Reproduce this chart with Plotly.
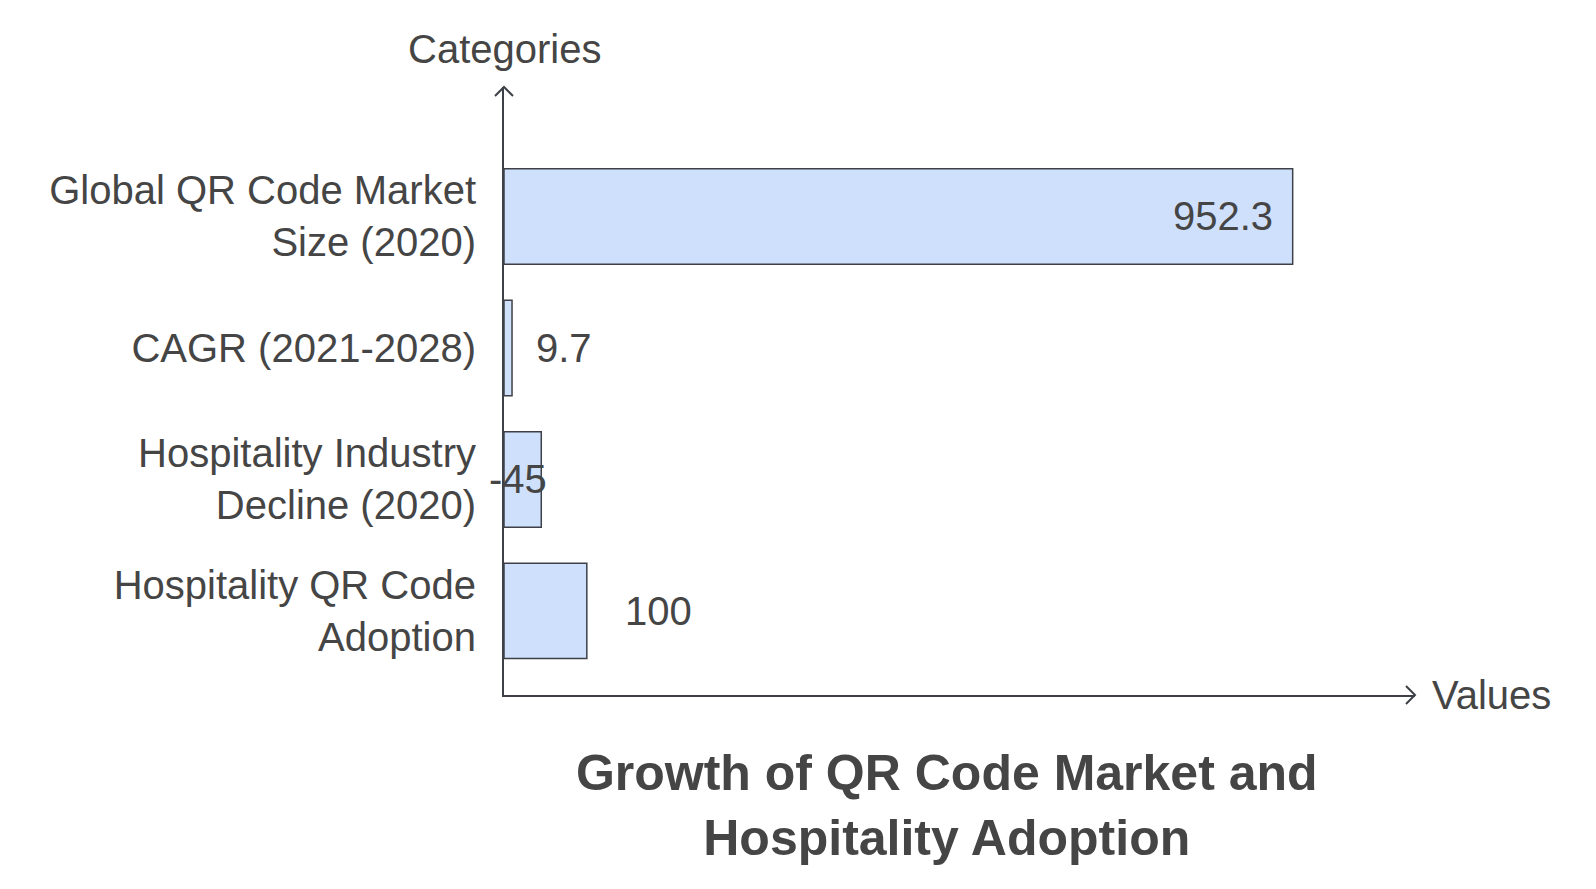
import plotly.graph_objects as go

# ---- data ----
categories = ["Global QR Code Market Size (2020)", "CAGR (2021-2028)",
              "Hospitality Industry Decline (2020)", "Hospitality QR Code Adoption"]
tick_labels = ["Global QR Code Market<br>Size (2020)", "CAGR (2021-2028)",
               "Hospitality Industry<br>Decline (2020)", "Hospitality QR Code<br>Adoption"]
values = [952.3, 9.7, -45, 100]
value_labels = ["952.3", "9.7", "-45", "100"]

# ---- style ----
FONT = "Liberation Sans, Arial, Helvetica, sans-serif"
TEXT = "#454545"
AXIS = "#3d4147"
label_anchor = ["right", "left", "center", "left"]
label_shift = [-18, 22, -23, 36]

bar_len = [abs(v) for v in values]

W, H = 1580, 873

fig = go.Figure()
fig.add_trace(go.Bar(
    x=bar_len, y=categories, orientation="h",
    marker=dict(color="#cfe0fc", line=dict(color=AXIS, width=1.5)),
    hoverinfo="skip", showlegend=False,
))

for c, L, t, a, s in zip(categories, bar_len, value_labels, label_anchor, label_shift):
    fig.add_annotation(x=L, y=c, xref="x", yref="y",
                       text=t, showarrow=False, xanchor=a, yanchor="middle",
                       xshift=s, font=dict(family=FONT, size=40, color=TEXT))

# axis titles
fig.add_annotation(x=0, y=1, xref="x domain", yref="y domain", text="Categories",
                   showarrow=False, xanchor="center", yanchor="middle", yshift=38,
                   font=dict(family=FONT, size=40, color=TEXT))
fig.add_annotation(x=1, y=0, xref="x domain", yref="y domain", text="Values",
                   showarrow=False, xanchor="left", yanchor="middle", xshift=15,
                   font=dict(family=FONT, size=40, color=TEXT))

# chevron arrowheads
fig.add_shape(type="path", xref="x domain", yref="y domain",
              xsizemode="pixel", ysizemode="pixel", xanchor=0, yanchor=1,
              path="M -9 -9 L 0 0 L 9 -9", line=dict(color=AXIS, width=2))
fig.add_shape(type="path", xref="x domain", yref="y domain",
              xsizemode="pixel", ysizemode="pixel", xanchor=1, yanchor=0,
              path="M -9 9 L 0 0 L -9 -9", line=dict(color=AXIS, width=2))

fig.update_layout(
    width=W, height=H,
    margin=dict(l=496, r=173, t=78.5, b=186, autoexpand=False),
    paper_bgcolor="white", plot_bgcolor="white",
    bargap=0.274,
    font=dict(family=FONT, color=TEXT),
    title=dict(text="<b>Growth of QR Code Market and<br>Hospitality Adoption</b>",
               font=dict(family=FONT, size=50, color=TEXT),
               xref="paper", x=0.486, xanchor="center",
               yref="container", y=1 - 781.5 / H, yanchor="middle"),
    xaxis=dict(range=[0, 1100], showgrid=False, zeroline=False, showticklabels=False,
               showline=True, linecolor=AXIS, linewidth=2, ticks="", fixedrange=True),
    yaxis=dict(range=[3.64, -0.985], showgrid=False, zeroline=False,
               tickmode="array", tickvals=categories, ticktext=tick_labels,
               tickfont=dict(family=FONT, size=40, color=TEXT),
               showline=True, linecolor=AXIS, linewidth=2, ticks="",
               ticklabelstandoff=18, fixedrange=True),
)

fig.write_html("out.html")
